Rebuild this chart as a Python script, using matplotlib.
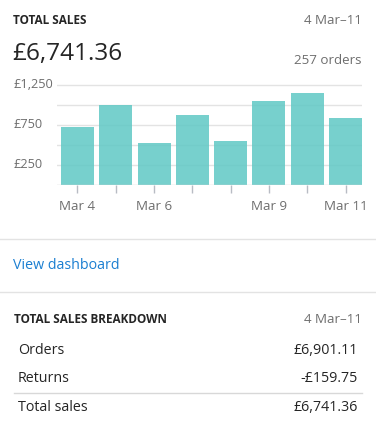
import matplotlib
matplotlib.use("Agg")
import matplotlib.pyplot as plt
from matplotlib.lines import Line2D

plt.rcParams['font.family'] = ['Open Sans', 'DejaVu Sans']

# Data
days = ["Mar 4", "Mar 5", "Mar 6", "Mar 7", "Mar 8", "Mar 9", "Mar 10", "Mar 11"]
sales = [729, 1000, 525, 875, 550, 1050, 1150, 841]
shown_xlabels = {"Mar 4", "Mar 6", "Mar 9", "Mar 11"}
ytick_values = [250, 500, 750, 1000, 1250]
ytick_labels = {250: "£250", 750: "£750", 1250: "£1,250"}
title = "TOTAL SALES"
date_range = "4 Mar\u201311"
total_value = "£6,741.36"
orders_text = "257 orders"
breakdown_rows = ["Orders", "Returns", "Total sales"]
breakdown_values = ["£6,901.11", "-£159.75", "£6,741.36"]

W, H = 376, 435
fig = plt.figure(figsize=(W / 100, H / 100), dpi=100)
fig.patch.set_facecolor("white")

def fx(x):
    return x / W

def fy(y):
    return 1 - y / H

DARK = "#252525"
GRAY = "#6e6e6e"
TEAL = "#5fc8c5"
LINE = "#e3e3e3"

# Header
fig.text(fx(13), fy(20), title, fontsize=8.5, fontweight="bold", color=DARK, va="center", ha="left")
fig.text(fx(362), fy(20), date_range, fontsize=9.6, color=GRAY, va="center", ha="right")
fig.text(fx(12), fy(54), total_value, fontsize=17.6, color=DARK, va="center", ha="left")
fig.text(fx(362), fy(60), orders_text, fontsize=9.6, color=GRAY, va="center", ha="right")

# Chart axes
ax_left, ax_right, ax_top, ax_bottom = 57, 362, 84, 186
ax = fig.add_axes([fx(ax_left), fy(ax_bottom), (ax_right - ax_left) / W, (ax_bottom - ax_top) / H])
x = list(range(len(days)))
for v in ytick_values:
    ax.axhline(v, color=LINE, lw=1, zorder=1)
ax.bar(x, sales, width=0.86, color=TEAL, alpha=0.85, zorder=2, linewidth=0)
ax.set_xlim(-0.535, 7.43)
ax.set_ylim(0, 1275)
ax.axhline(0, color="#d4d4d4", lw=1, zorder=3)
ax.set_yticks([])
ax.set_xticks(x)
ax.set_xticklabels([d if d in shown_xlabels else "" for d in days], fontsize=9.6, color=GRAY)
ax.tick_params(axis="x", length=6, color="#b8bcc4", width=1, pad=4)
for s in ax.spines.values():
    s.set_visible(False)
ax.patch.set_alpha(0)

# y labels (left aligned at x=15)
for v, lab in ytick_labels.items():
    ypix = ax_bottom - v / 1275 * (ax_bottom - ax_top)
    fig.text(fx(14), fy(ypix - 1.5), lab, fontsize=9.2, color=GRAY, va="center", ha="left")

# separators
fig.add_artist(Line2D([0, 1], [fy(240), fy(240)], color=LINE, lw=1))
fig.add_artist(Line2D([0, 1], [fy(292.5), fy(292.5)], color=LINE, lw=1))

fig.text(fx(13), fy(266), "View dashboard", fontsize=10.3, color="#1b7fd1", va="center", ha="left")

# breakdown
fig.text(fx(14), fy(320), "TOTAL SALES BREAKDOWN", fontsize=8.5, fontweight="bold", color=DARK, va="center", ha="left")
fig.text(fx(362), fy(320), date_range, fontsize=9.6, color=GRAY, va="center", ha="right")
row_y = [351, 379, 408]
for lab, val, yy in zip(breakdown_rows, breakdown_values, row_y):
    fig.text(fx(18), fy(yy), lab, fontsize=10.3, color=DARK, va="center", ha="left")
    fig.text(fx(358), fy(yy), val, fontsize=10.3, color=DARK, va="center", ha="right")
fig.add_artist(Line2D([fx(14), fx(362)], [fy(393.5), fy(393.5)], color="#d8d8d8", lw=1))

fig.savefig("out.png", dpi=100, facecolor="white")
